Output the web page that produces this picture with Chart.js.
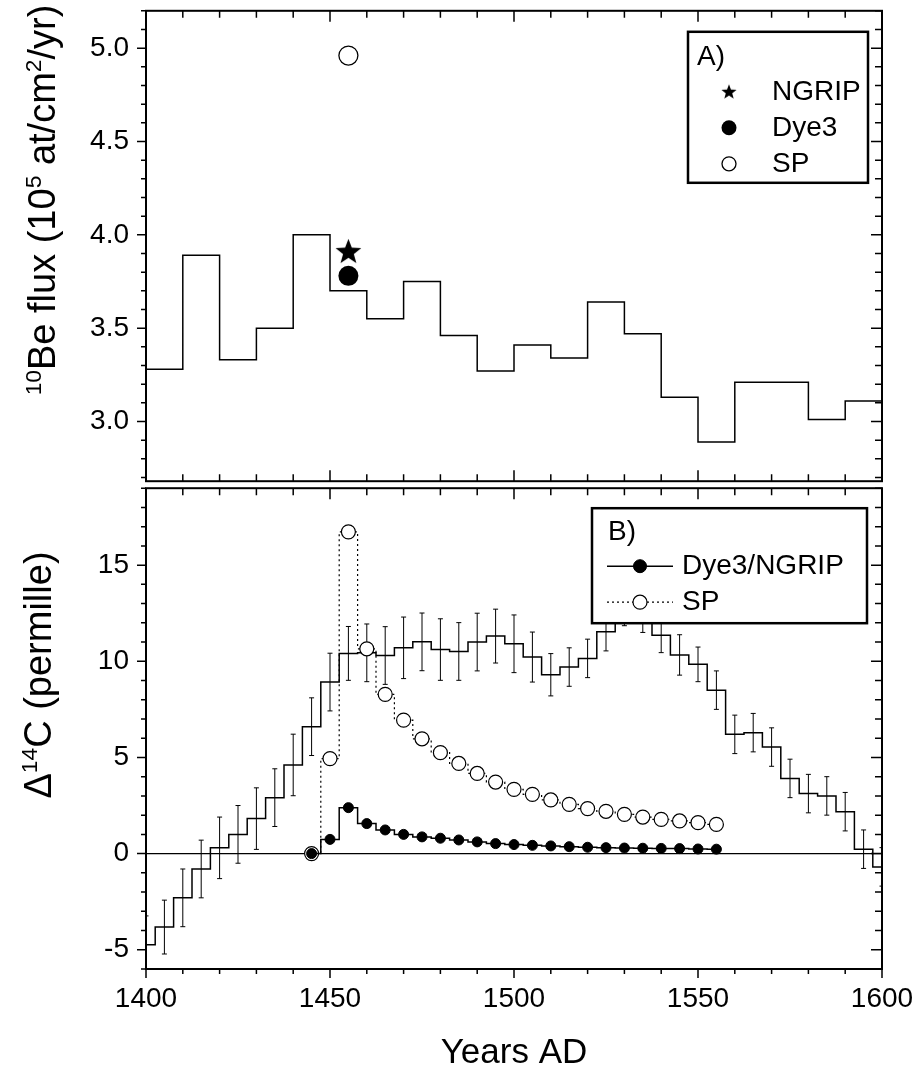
<!DOCTYPE html>
<html>
<head>
<meta charset="utf-8">
<title>10Be flux and Delta 14C, 1400-1600 AD</title>
<script src="https://cdn.jsdelivr.net/npm/chart.js@4.4.1/dist/chart.umd.min.js"></script>
<style>
  body { margin: 0; background: #fff; }
  #wrap { position: relative; width: 920px; height: 1074px; overflow: hidden;
          font-family: "Liberation Sans", Arial, sans-serif; color: #000; }
  #beChart { position: absolute; left: 0; top: 0; }
  #cChart { position: absolute; left: 0; top: 480px; }
  .ytitle { position: absolute; white-space: nowrap; line-height: 1;
            transform: translate(-50%, -50%) rotate(-90deg); }
  .ytitle sup { font-size: 0.6em; vertical-align: 0; position: relative; top: -0.6em; }
</style>
</head>
<body>
<div id="wrap">
  <canvas id="beChart" width="920" height="492"></canvas>
  <canvas id="cChart" width="920" height="594"></canvas>
  <div class="ytitle" style="left:42px; top:200px; font-size:38px;"><sup>10</sup>Be flux (10<sup>5</sup> at/cm<sup>2</sup>/yr)</div>
  <div class="ytitle" style="left:38px; top:675px; font-size:38px;">&Delta;<sup>14</sup>C (permille)</div>
</div>

<script>
// ---- panel A: 10Be flux, 10-year bins (value holds from bin start to next start)
const beYears = [1400, 1410, 1420, 1430, 1440, 1450, 1460, 1470, 1480, 1490,
                 1500, 1510, 1520, 1530, 1540, 1550, 1560, 1570, 1580, 1590];
const beFlux  = [3.28, 3.89, 3.33, 3.50, 4.00, 3.70, 3.55, 3.75, 3.46, 3.27,
                 3.41, 3.34, 3.64, 3.47, 3.13, 2.89, 3.21, 3.21, 3.01, 3.11];
const beEnd = 1600;

// single ice-core values around 1455
const coreYear = [1455];
const ngripBe  = [3.91];
const dye3Be   = [3.78];
const spBe     = [4.96];

// ---- panel B: Delta 14C record (5-year steps) with 1-sigma errors
const cYears = [1400, 1405, 1410, 1415, 1420, 1425, 1430, 1435, 1440, 1445,
                1450, 1455, 1460, 1465, 1470, 1475, 1480, 1485, 1490, 1495,
                1500, 1505, 1510, 1515, 1520, 1525, 1530, 1535, 1540, 1545,
                1550, 1555, 1560, 1565, 1570, 1575, 1580, 1585, 1590, 1595, 1600];
const d14c = [-4.74, -3.82, -2.30, -0.80, 0.30, 1.00, 1.82, 2.91, 4.61, 6.60,
              8.92, 10.41, 10.44, 10.30, 10.70, 11.01, 10.61, 10.51, 11.00, 11.31,
              10.91, 10.22, 9.30, 9.70, 10.15, 11.54, 12.85, 12.50, 11.35, 10.33,
              9.84, 8.50, 6.20, 6.29, 5.54, 3.91, 3.12, 3.00, 2.18, 0.23, -0.69];
const d14cErr = [1.5, 1.4, 1.5, 1.5, 1.6, 1.5, 1.6, 1.5, 1.6, 1.5,
                 1.5, 1.4, 1.5, 1.5, 1.6, 1.5, 1.6, 1.5, 1.5, 1.4,
                 1.5, 1.3, 1.1, 1.0, 1.0, 1.0, 1.0, 1.0, 0.9, 1.05,
                 0.9, 1.0, 1.0, 1.0, 1.0, 1.0, 1.0, 1.0, 1.0, 1.0, 1.0];

// modelled Delta 14C response
const modelYears = [1445, 1450, 1455, 1460, 1465, 1470, 1475, 1480, 1485, 1490,
                    1495, 1500, 1505, 1510, 1515, 1520, 1525, 1530, 1535, 1540,
                    1545, 1550, 1555];
const dye3Model = [0, 0.74, 2.39, 1.56, 1.23, 1.00, 0.87, 0.80, 0.71, 0.61,
                   0.52, 0.47, 0.43, 0.40, 0.36, 0.33, 0.31, 0.29, 0.28, 0.27,
                   0.26, 0.24, 0.23];
const spModel = [0, 4.94, 16.73, 10.65, 8.28, 6.94, 5.97, 5.25, 4.69, 4.17,
                 3.72, 3.34, 3.08, 2.79, 2.56, 2.34, 2.20, 2.04, 1.90, 1.78,
                 1.70, 1.61, 1.52];

// tick labels
const yearTicks = [1400, 1450, 1500, 1550, 1600];
const beTicks = [3.0, 3.5, 4.0, 4.5, 5.0];
const d14cTicks = [-5, 0, 5, 10, 15];

const FONT = '"Liberation Sans", Arial, sans-serif';
Chart.defaults.font.family = FONT;
Chart.defaults.color = '#000';

function makeStar(r) {
  const c = document.createElement('canvas');
  const s = Math.ceil(r * 2 + 2);
  c.width = s; c.height = s;
  const g = c.getContext('2d');
  g.beginPath();
  for (let i = 0; i < 10; i++) {
    const rr = i % 2 ? r * 0.42 : r;
    const ang = -Math.PI / 2 + i * Math.PI / 5;
    g.lineTo(s / 2 + rr * Math.cos(ang), s / 2 + rr * Math.sin(ang) + r * 0.05);
  }
  g.closePath();
  g.fillStyle = '#000';
  g.fill();
  return c;
}
const bigStar = makeStar(13.5);
const smallStar = makeStar(8);

// frame + inward/outward minor and major ticks like the original plot
const frameTicks = {
  id: 'frameTicks',
  afterDatasetsDraw(chart, args, o) {
    const {ctx, chartArea: a, scales} = chart;
    const xs = scales.x, ys = scales.y;
    const len = {in: [7, 11], out: [5, 9]};
    ctx.save();
    ctx.strokeStyle = '#000';
    ctx.lineWidth = 1.5;
    ctx.beginPath();
    for (let k = Math.ceil(xs.min / o.xStep - 1e-9); k <= Math.floor(xs.max / o.xStep + 1e-9); k++) {
      const px = xs.getPixelForValue(k * o.xStep);
      const m = k % o.xMajor === 0 ? 1 : 0;
      if (o.top) { ctx.moveTo(px, a.top); ctx.lineTo(px, a.top + len[o.top][m]); }
      if (o.bottom) {
        const d = o.bottom === 'in' ? -1 : 1;
        ctx.moveTo(px, a.bottom); ctx.lineTo(px, a.bottom + d * len[o.bottom][m]);
      }
    }
    for (let k = Math.ceil(ys.min / o.yStep - 1e-9); k <= Math.floor(ys.max / o.yStep + 1e-9); k++) {
      const py = ys.getPixelForValue(k * o.yStep);
      const m = k % o.yMajor === 0 ? 1 : 0;
      ctx.moveTo(a.left, py); ctx.lineTo(a.left - len.out[m], py);
      ctx.moveTo(a.right, py); ctx.lineTo(a.right - len.in[m], py);
    }
    ctx.stroke();
    ctx.lineWidth = 2;
    ctx.strokeRect(a.left, a.top, a.right - a.left, a.bottom - a.top);
    ctx.restore();
  }
};
Chart.register(frameTicks);

// boxed legend with a panel letter, drawn from the datasets' own styles
function boxLegend(spec) {
  return {
    id: spec.id,
    afterDatasetsDraw(chart) {
      const {ctx, chartArea: a} = chart;
      const bx = a.left + spec.box[0], by = a.top + spec.box[1];
      ctx.save();
      ctx.fillStyle = '#fff';
      ctx.fillRect(bx, by, spec.box[2], spec.box[3]);
      ctx.lineWidth = 2.5;
      ctx.strokeStyle = '#000';
      ctx.strokeRect(bx, by, spec.box[2], spec.box[3]);
      ctx.font = '28px ' + FONT;
      ctx.textBaseline = 'middle';
      ctx.textAlign = 'left';
      ctx.fillStyle = '#000';
      ctx.fillText(spec.title, bx + spec.titleAt[0], by + spec.titleAt[1]);
      spec.rows.forEach(row => {
        const ds = chart.data.datasets[row.dataset];
        const cy = by + row.y;
        if (row.line) {
          ctx.strokeStyle = ds.borderColor;
          ctx.lineWidth = ds.borderWidth;
          ctx.setLineDash(ds.borderDash || []);
          ctx.beginPath();
          ctx.moveTo(bx + row.line[0], cy);
          ctx.lineTo(bx + row.line[1], cy);
          ctx.stroke();
          ctx.setLineDash([]);
        }
        ctx.fillStyle = ds.pointBackgroundColor;
        ctx.strokeStyle = ds.pointBorderColor;
        ctx.lineWidth = ds.pointBorderWidth;
        Chart.helpers.drawPoint(ctx, {
          pointStyle: row.pointStyle || ds.pointStyle, radius: row.radius,
          borderWidth: ds.pointBorderWidth, rotation: 0
        }, bx + row.markX, cy);
        ctx.fillStyle = '#000';
        ctx.fillText(ds.label, bx + row.textX, cy);
      });
      ctx.restore();
    }
  };
}

function fixedAxis(size, horizontal) {
  return function (scale) {
    if (horizontal) scale.height = size; else scale.width = size;
    scale.paddingTop = 0; scale.paddingBottom = 0;
    scale.paddingLeft = 0; scale.paddingRight = 0;
  };
}
function fixedTicks(values) {
  return function (scale) {
    scale.ticks = values.map(v => ({value: v}));
  };
}

// ---------------- panel A
const beStep = beYears.map((yr, i) => ({x: yr, y: beFlux[i]}));
beStep.push({x: beEnd, y: beFlux[beFlux.length - 1]});

new Chart(document.getElementById('beChart'), {
  type: 'line',
  data: {
    datasets: [
      {label: 'NGRIP', data: coreYear.map((x, i) => ({x, y: ngripBe[i]})), showLine: false,
       pointStyle: bigStar, pointBackgroundColor: '#000', pointBorderColor: '#000', pointBorderWidth: 0, order: 0},
      {label: 'Dye3', data: coreYear.map((x, i) => ({x, y: dye3Be[i]})), showLine: false,
       pointStyle: 'circle', pointRadius: 10, pointBackgroundColor: '#000', pointBorderColor: '#000', pointBorderWidth: 0, order: 1},
      {label: 'SP', data: coreYear.map((x, i) => ({x, y: spBe[i]})), showLine: false,
       pointStyle: 'circle', pointRadius: 9.5, pointBackgroundColor: '#fff', pointBorderColor: '#000', pointBorderWidth: 1.3, order: 2},
      {label: '10Be', data: beStep, stepped: 'before', borderColor: '#000', borderWidth: 1.5,
       pointRadius: 0, fill: false, order: 3}
    ]
  },
  options: {
    responsive: false,
    animation: false,
    events: [],
    layout: {padding: {top: 4, right: 38, bottom: 4, left: 0}},
    plugins: {
      legend: {display: false},
      tooltip: {enabled: false},
      frameTicks: {xStep: 10, xMajor: 5, yStep: 0.1, yMajor: 5, top: 'in', bottom: 'in'}
    },
    scales: {
      x: {type: 'linear', min: 1400, max: 1600, display: false, afterFit: fixedAxis(0, true)},
      y: {
        type: 'linear', min: 2.68, max: 5.2,
        grid: {display: false, drawTicks: false},
        border: {display: false},
        ticks: {padding: 17, font: {size: 28}, callback: v => v.toFixed(1)},
        afterBuildTicks: fixedTicks(beTicks),
        afterFit: fixedAxis(146, false)
      }
    }
  },
  plugins: [boxLegend({
    id: 'legendA', box: [542, 21, 180, 151], title: 'A)', titleAt: [9, 25],
    rows: [
      {dataset: 0, y: 60, markX: 41, textX: 84, pointStyle: smallStar},
      {dataset: 1, y: 96, markX: 41, textX: 84, radius: 7.5},
      {dataset: 2, y: 132, markX: 41, textX: 84, radius: 7}
    ]
  })]
});

// ---------------- panel B
const errPoints = [];
cYears.forEach((yr, i) => {
  errPoints.push({x: yr, y: d14c[i] - d14cErr[i]}, {x: yr, y: d14c[i] + d14cErr[i]}, {x: yr, y: null});
});

new Chart(document.getElementById('cChart'), {
  type: 'line',
  data: {
    datasets: [
      {label: 'Dye3/NGRIP', data: modelYears.map((x, i) => ({x, y: dye3Model[i]})),
       stepped: 'middle', borderColor: '#000', borderWidth: 1.5,
       pointStyle: 'circle', pointRadius: 5, pointBackgroundColor: '#000', pointBorderColor: '#000',
       pointBorderWidth: 1, order: 0},
      {label: 'SP', data: modelYears.map((x, i) => ({x, y: spModel[i]})),
       stepped: 'middle', borderColor: '#000', borderWidth: 1.2, borderDash: [2, 3],
       pointStyle: 'circle', pointRadius: 7, pointBackgroundColor: '#fff', pointBorderColor: '#000',
       pointBorderWidth: 1.2, order: 1},
      {label: 'Delta 14C', data: cYears.map((x, i) => ({x, y: d14c[i]})),
       stepped: 'middle', borderColor: '#000', borderWidth: 1.5, pointRadius: 0, order: 2},
      {label: 'error', data: errPoints, spanGaps: false, borderColor: '#000', borderWidth: 1,
       pointStyle: 'line', pointRadius: 2.5, pointBorderColor: '#000', pointBorderWidth: 1, order: 3}
    ]
  },
  options: {
    responsive: false,
    animation: false,
    events: [],
    layout: {padding: {top: 8, right: 38, bottom: 0, left: 0}},
    plugins: {
      legend: {display: false},
      tooltip: {enabled: false},
      frameTicks: {xStep: 10, xMajor: 5, yStep: 1, yMajor: 5, top: 'in', bottom: 'out'}
    },
    scales: {
      x: {
        type: 'linear', min: 1400, max: 1600,
        grid: {display: false, drawTicks: false},
        border: {display: false},
        ticks: {padding: 13, font: {size: 28}, maxRotation: 0, callback: v => String(v)},
        afterBuildTicks: fixedTicks(yearTicks),
        title: {display: true, text: 'Years AD', font: {size: 35}, padding: {top: 0, bottom: 0}},
        afterFit: fixedAxis(105, true)
      },
      y: {
        type: 'linear', min: -6, max: 19,
        grid: {drawTicks: false, lineWidth: 1.2,
               color: c => (c.tick && c.tick.value === 0 ? '#000' : 'rgba(0,0,0,0)')},
        border: {display: false},
        ticks: {padding: 17, font: {size: 28}, callback: v => String(v)},
        afterBuildTicks: fixedTicks(d14cTicks),
        afterFit: fixedAxis(146, false)
      }
    }
  },
  plugins: [boxLegend({
    id: 'legendB', box: [446, 20, 275, 115], title: 'B)', titleAt: [16, 24],
    rows: [
      {dataset: 0, y: 58, line: [15, 81], markX: 48, textX: 90, radius: 6.5},
      {dataset: 1, y: 94, line: [15, 81], markX: 48, textX: 90, radius: 7}
    ]
  })]
});
</script>
</body>
</html>
